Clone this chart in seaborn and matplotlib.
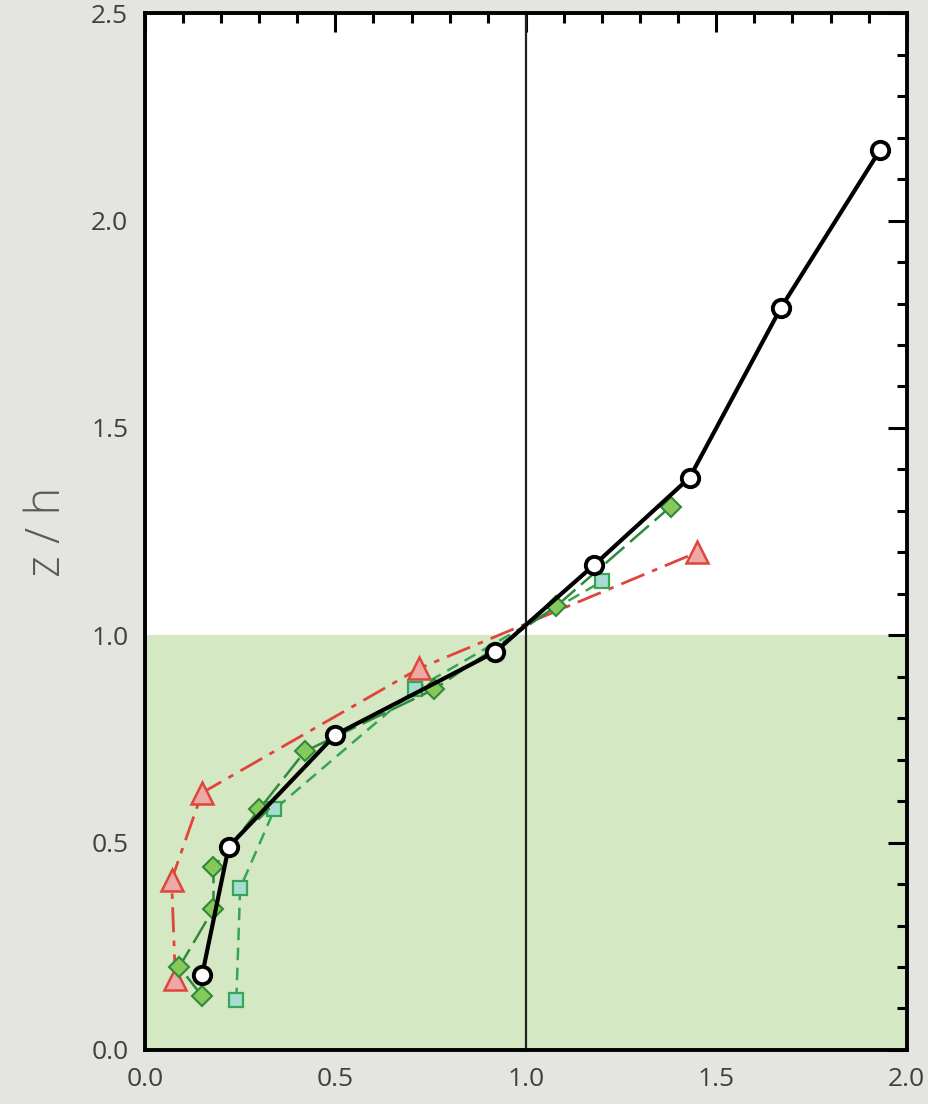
import numpy as np
import pandas as pd
import matplotlib
matplotlib.use("Agg")
import matplotlib.pyplot as plt
import seaborn as sns
from matplotlib.ticker import MultipleLocator, FormatStrFormatter

# -----------------------------
# DATA
# -----------------------------
circle_x = [0.15, 0.22, 0.50, 0.92, 1.18, 1.43, 1.67, 1.93]
circle_z = [0.18, 0.49, 0.76, 0.96, 1.17, 1.38, 1.79, 2.17]

diamond_x = [0.15, 0.09, 0.18, 0.18, 0.30, 0.42, 0.76, 1.08, 1.38]
diamond_z = [0.13, 0.20, 0.34, 0.44, 0.58, 0.72, 0.87, 1.07, 1.31]

square_x = [0.24, 0.25, 0.34, 0.71, 1.20]
square_z = [0.12, 0.39, 0.58, 0.87, 1.13]

triangle_x = [0.08, 0.07, 0.15, 0.72, 1.45]
triangle_z = [0.17, 0.41, 0.62, 0.92, 1.20]

canopy_top = 1.0

# -----------------------------
# STYLE
# -----------------------------
sns.set_theme(style="white")
plt.rcParams["font.family"] = ["Open Sans", "DejaVu Sans"]

BG = "#e4e4e0"
CANOPY = "#d5e8c4"

fig = plt.figure(figsize=(9.29, 11.04), dpi=100, facecolor=BG)
ax = fig.add_axes([0.156, 0.049, 0.820, 0.939])
ax.set_facecolor("white")

# canopy shading and reference line
ax.axhspan(0, canopy_top, color=CANOPY, zorder=0, lw=0)
ax.axvline(1.0, color="#222222", lw=1.6, zorder=1)


def style_last(ax, dashes, marker, ms, face, edge, mew):
    ln = ax.lines[-1]
    if dashes is not None:
        ln.set_dashes(dashes)
    ln.set_marker(marker)
    ln.set_markersize(ms)
    ln.set_markerfacecolor(face)
    ln.set_markeredgecolor(edge)
    ln.set_markeredgewidth(mew)


# -----------------------------
# SERIES
# -----------------------------
tri = pd.DataFrame({"x": triangle_x, "z": triangle_z})
sns.lineplot(data=tri, x="x", y="z", sort=False, estimator=None, ax=ax,
             color="#e0453c", lw=2.0, zorder=2)
style_last(ax, [9, 3, 2, 3], "^", 16, "#eda9a4", "#e0453c", 1.8)

sq = pd.DataFrame({"x": square_x, "z": square_z})
sns.lineplot(data=sq, x="x", y="z", sort=False, estimator=None, ax=ax,
             color="#35a653", lw=1.8, zorder=3)
style_last(ax, [5, 3], "s", 10, "#a6dcd2", "#35a653", 1.6)

dia = pd.DataFrame({"x": diamond_x, "z": diamond_z})
sns.lineplot(data=dia, x="x", y="z", sort=False, estimator=None, ax=ax,
             color="#2f8a3a", lw=1.8, zorder=4)
style_last(ax, [10, 3], "D", 10.5, "#86c95a", "#2f8a3a", 1.5)

circ = pd.DataFrame({"x": circle_x, "z": circle_z})
sns.lineplot(data=circ, x="x", y="z", sort=False, estimator=None, ax=ax,
             color="black", lw=3.0, zorder=5)
style_last(ax, None, "o", 12.5, "white", "black", 2.8)

# -----------------------------
# AXES
# -----------------------------
ax.set_xlim(0, 2.0)
ax.set_ylim(0, 2.5)
ax.xaxis.set_major_locator(MultipleLocator(0.5))
ax.xaxis.set_minor_locator(MultipleLocator(0.1))
ax.yaxis.set_major_locator(MultipleLocator(0.5))
ax.yaxis.set_minor_locator(MultipleLocator(0.1))
ax.xaxis.set_major_formatter(FormatStrFormatter("%.1f"))
ax.yaxis.set_major_formatter(FormatStrFormatter("%.1f"))

ax.tick_params(which="both", direction="in", top=True, right=True,
               color="black", width=2.2)
ax.tick_params(which="major", length=14, labelsize=19, labelcolor="#404040",
               pad=12)
ax.tick_params(which="minor", length=7)

for side in ax.spines.values():
    side.set_linewidth(2.8)
    side.set_color("black")

ax.set_xlabel("")
ax.set_ylabel("z / h", fontsize=34, color="#5a5a5a", labelpad=14,
              fontweight="light")

fig.savefig("out.png", dpi=100, facecolor=BG)
